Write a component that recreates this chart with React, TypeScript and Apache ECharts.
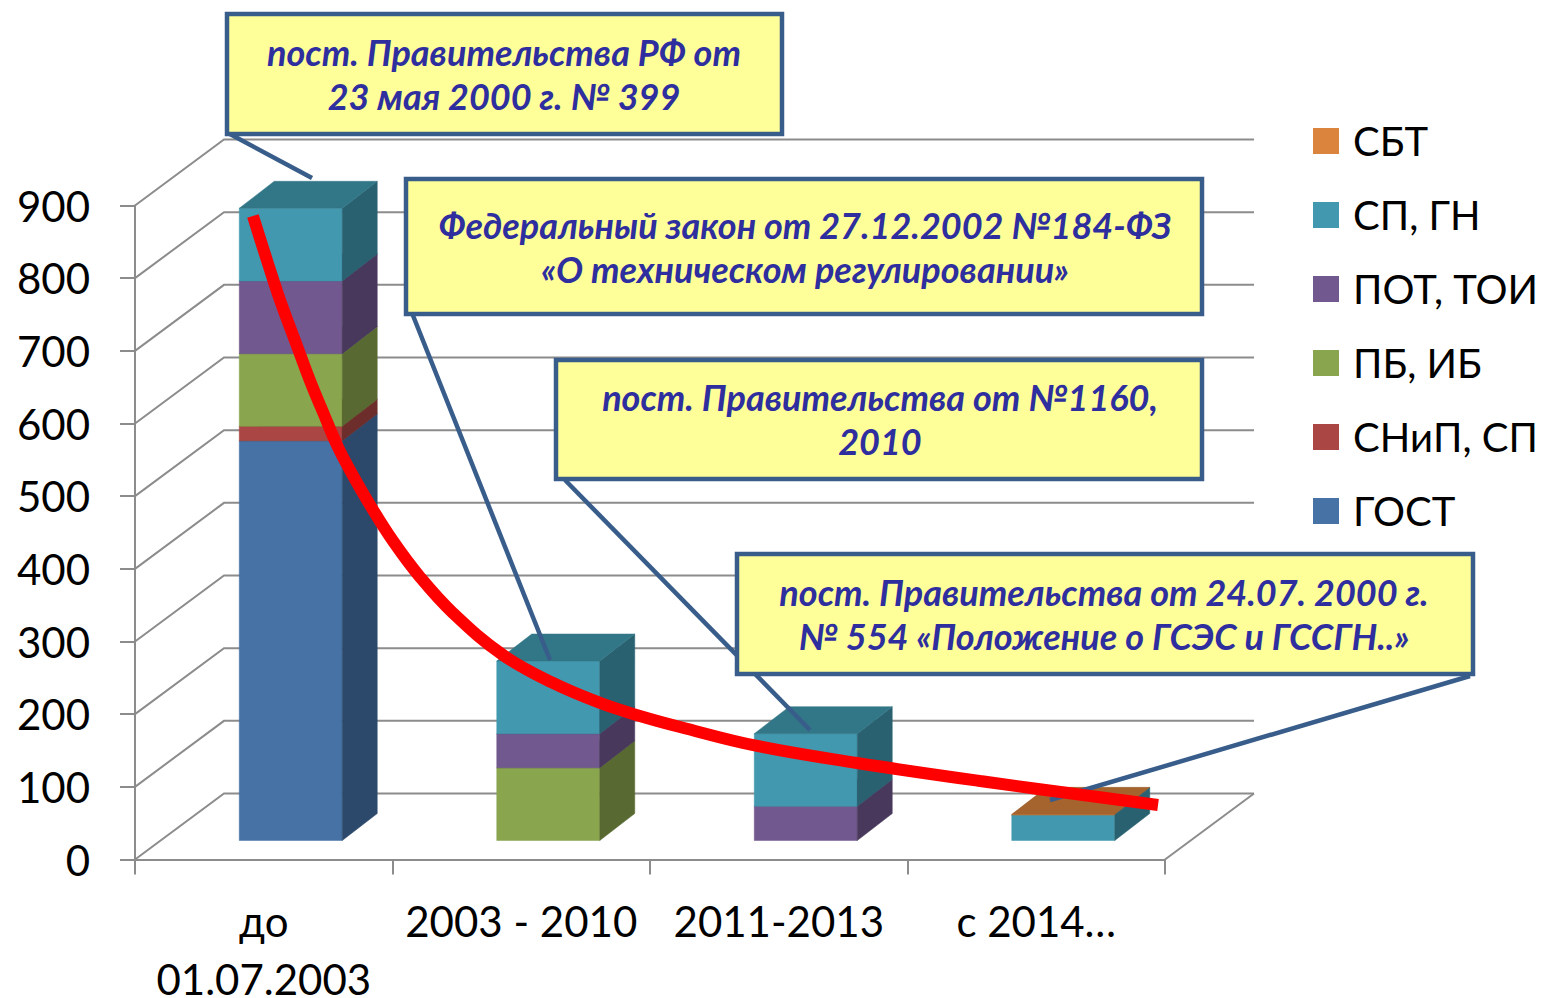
import React, { useEffect, useRef } from "react";
import * as echarts from "echarts";

const categories = ["до\n01.07.2003", "2003 - 2010", "2011-2013", "с 2014…"];
const yTicks = [0, 100, 200, 300, 400, 500, 600, 700, 800, 900];
const gost = [550, 0, 0, 0];
const snip = [20, 0, 0, 0];
const pb = [100, 100, 0, 0];
const pot = [100, 47, 47, 0];
const sp = [100, 100, 100, 35];
const sbt = [0, 0, 0, 1];
const trend: [number, number][] = [
  [0.458, 885.5], [0.517, 819.5], [0.563, 770], [0.625, 710.7], [0.68, 658.5], [0.73, 615.8],
  [0.788, 567.6], [0.839, 533.2], [0.913, 487.8], [1.002, 438.3], [1.107, 388.7], [1.235, 339.2],
  [1.429, 281.4], [1.623, 242.9], [1.806, 215.4], [1.961, 197.5], [2.117, 182.3], [2.416, 156.2],
  [2.804, 132.8], [3.282, 108], [3.973, 75],
];
const legendOrder = ["СБТ", "СП, ГН", "ПОТ, ТОИ", "ПБ, ИБ", "СНиП, СП", "ГОСТ"];
const callouts = [
  { box: [227, 14, 555, 120], text: "пост. Правительства РФ от\n23 мая 2000 г. № 399", cx: 504, cy: 74, tail: [228, 133, 312, 178] },
  { box: [406, 179, 796, 135], text: "Федеральный закон от 27.12.2002 №184-ФЗ\n«О техническом регулировании»", cx: 805, cy: 247, tail: [412, 313, 550, 660] },
  { box: [556, 360, 646, 119], text: "пост. Правительства от №1160,\n2010", cx: 880, cy: 419, tail: [565, 480, 810, 730] },
  { box: [737, 554, 736, 120], text: "пост. Правительства от 24.07. 2000 г.\n№ 554 «Положение о ГСЭС и ГССГН..»", cx: 1104, cy: 614, tail: [1470, 676, 1050, 800] },
];

const FONT = "Lato, 'Noto Sans', sans-serif";
const GRID = "#8c8c8c";
const WALL_DX = 89;
const WALL_DY = 66;
const BAR_DX = 27;
const BAR_DY = 19;
const SIDE_DX = 35;
const SIDE_DY = 27;

const stackDefs = [
  { name: "ГОСТ", values: gost, front: "#4672A6", side: "#2C496B", top: "#37597F" },
  { name: "СНиП, СП", values: snip, front: "#AA4643", side: "#6D2D2B", top: "#85372F" },
  { name: "ПБ, ИБ", values: pb, front: "#89A54E", side: "#586932", top: "#6C813D" },
  { name: "ПОТ, ТОИ", values: pot, front: "#71588F", side: "#48385C", top: "#594570" },
  { name: "СП, ГН", values: sp, front: "#4198AF", side: "#296170", top: "#327787" },
  { name: "СБТ", values: sbt, front: "#DB843D", side: "#296170", top: "#A5632E" },
];

function boxRenderer(def: { front: string; side: string; top: string }) {
  return (_p: any, api: any) => {
    const i = api.value(0);
    const from = api.value(1);
    const to = api.value(2);
    if (to <= from) return null;
    const w = api.size([1, 0])[0] * 0.4;
    const a = api.coord([i, from]);
    const b = api.coord([i, to]);
    const x0 = a[0] + BAR_DX - w / 2;
    const x1 = x0 + w;
    const y0 = a[1] - BAR_DY;
    const y1 = b[1] - BAR_DY;
    const poly = (points: number[][], fill: string) => ({
      type: "polygon",
      shape: { points },
      style: { fill, stroke: fill, lineWidth: 0.5 },
    });
    return {
      type: "group",
      children: [
        poly([[x0, y0], [x1, y0], [x1, y1], [x0, y1]], def.front),
        poly([[x1, y0], [x1 + SIDE_DX, y0 - SIDE_DY], [x1 + SIDE_DX, y1 - SIDE_DY], [x1, y1]], def.side),
        poly([[x0, y1], [x1, y1], [x1 + SIDE_DX, y1 - SIDE_DY], [x0 + SIDE_DX, y1 - SIDE_DY]], def.top),
      ],
    };
  };
}

function wallRenderer(_p: any, api: any) {
  const v = api.value(0);
  const l = api.coord([0, v]);
  const r = api.coord([4, v]);
  const children: any[] = [
    {
      type: "polyline",
      shape: { points: [[l[0], l[1]], [l[0] + WALL_DX, l[1] - WALL_DY], [r[0] + WALL_DX, r[1] - WALL_DY]] },
      style: { stroke: GRID, lineWidth: 2, fill: "none" },
    },
  ];
  if (v === 0) {
    children.push({
      type: "line",
      shape: { x1: r[0], y1: r[1], x2: r[0] + WALL_DX, y2: r[1] - WALL_DY },
      style: { stroke: GRID, lineWidth: 2 },
    });
  }
  return { type: "group", children };
}

function buildSeries() {
  const out: any[] = [
    {
      type: "custom",
      name: "wall",
      xAxisIndex: 1,
      yAxisIndex: 0,
      z: 1,
      silent: true,
      renderItem: wallRenderer,
      data: yTicks.map((v) => [v]),
      encode: { x: [], y: 0 },
    },
  ];
  const running = categories.map(() => 0);
  stackDefs.forEach((def, k) => {
    const data = def.values.map((v, i) => {
      const row = [i, running[i], running[i] + v];
      running[i] += v;
      return row;
    });
    out.push({
      type: "custom",
      name: def.name,
      xAxisIndex: 0,
      yAxisIndex: 0,
      z: 2 + k,
      itemStyle: { color: def.front },
      renderItem: boxRenderer(def),
      data,
      encode: { x: 0, y: [1, 2] },
    });
  });
  out.push({
    type: "line",
    name: "trend",
    xAxisIndex: 1,
    yAxisIndex: 0,
    data: trend,
    smooth: 0.4,
    showSymbol: false,
    z: 30,
    lineStyle: { color: "#FF0000", width: 12, cap: "butt" },
    itemStyle: { color: "#FF0000" },
  });
  return out;
}

function buildGraphic() {
  const els: any[] = [];
  callouts.forEach((c) => {
    els.push({
      type: "line",
      z: 20,
      shape: { x1: c.tail[0], y1: c.tail[1], x2: c.tail[2], y2: c.tail[3] },
      style: { stroke: "#385D8A", lineWidth: 4.5 },
    });
  });
  callouts.forEach((c) => {
    els.push({
      type: "rect",
      z: 40,
      shape: { x: c.box[0], y: c.box[1], width: c.box[2], height: c.box[3] },
      style: { fill: "#FFFF99", stroke: "#385D8A", lineWidth: 4.5 },
    });
    els.push({
      type: "text",
      z: 41,
      x: c.cx,
      y: c.cy,
      style: {
        text: c.text,
        fill: "#2E2E9E",
        font: `italic bold 36px ${FONT}`,
        lineHeight: 44.5,
        align: "center",
        verticalAlign: "middle",
      },
    });
  });
  return els;
}

const catLabelStyle = { color: "#000", fontFamily: FONT, fontSize: 42 };

export default function App() {
  const ref = useRef<HTMLDivElement>(null);
  useEffect(() => {
    document.body.style.margin = "0";
    const chart = echarts.init(ref.current!, undefined, { renderer: "svg" });
    chart.setOption({
      animation: false,
      backgroundColor: "#fff",
      grid: { left: 135, top: 205.5, width: 1030, height: 654, outerBoundsMode: "none" },
      legend: {
        show: true,
        orient: "vertical",
        left: 1313,
        top: 116,
        padding: 0,
        itemWidth: 26,
        itemHeight: 26,
        itemGap: 24,
        icon: "rect",
        data: legendOrder,
        selectedMode: false,
        textStyle: { fontFamily: FONT, fontSize: 40, color: "#000", lineHeight: 50, padding: [0, 0, 0, 9] },
      },
      xAxis: [
        {
          type: "category",
          data: categories,
          axisLine: { lineStyle: { color: GRID, width: 2 } },
          axisTick: { show: true, length: 15, lineStyle: { color: GRID, width: 2 } },
          axisLabel: {
            ...catLabelStyle,
            margin: 21,
            interval: 0,
            formatter: (v: string) => v.split("\n").map((s, i) => `{${i ? "b" : "a"}|${s}}`).join("\n"),
            rich: {
              a: { ...catLabelStyle, lineHeight: 80 },
              b: { ...catLabelStyle, lineHeight: 36 },
            },
          },
        },
        { type: "value", min: 0, max: 4, show: false },
      ],
      yAxis: [
        {
          type: "value",
          min: 0,
          max: 900,
          interval: 100,
          axisLine: { show: true, lineStyle: { color: GRID, width: 2 } },
          axisTick: { show: true, length: 15, lineStyle: { color: GRID, width: 2 } },
          splitLine: { show: false },
          axisLabel: { color: "#000", fontFamily: FONT, fontSize: 42, margin: 45 },
        },
      ],
      series: buildSeries(),
      graphic: { elements: buildGraphic() },
    });
    return () => chart.dispose();
  }, []);
  return <div ref={ref} style={{ width: 1543, height: 998, position: "absolute", left: 0, top: 0 }} />;
}
